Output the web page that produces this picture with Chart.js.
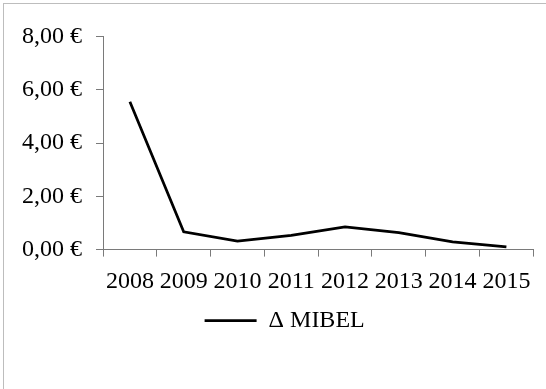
<!DOCTYPE html>
<html>
<head>
<meta charset="utf-8">
<script src="https://cdn.jsdelivr.net/npm/chart.js@4/dist/chart.umd.min.js"></script>
<style>
  html, body { margin: 0; padding: 0; background: #fff; overflow: hidden; }
  #frame {
    position: absolute; left: 3px; top: 3px; width: 560px; height: 400px;
    border-left: 1px solid #bdbdbd; border-top: 1px solid #bdbdbd;
  }
  #wrap { position: absolute; left: 0; top: 0; width: 546px; height: 389px; }
</style>
</head>
<body>
<div id="frame"></div>
<div id="wrap"><canvas id="c" width="546" height="389"></canvas></div>
<script>
// Yearly price differential
const years = ['2008', '2009', '2010', '2011', '2012', '2013', '2014', '2015'];
const mibelDelta = [5.55, 0.67, 0.32, 0.53, 0.85, 0.64, 0.29, 0.1];
const seriesName = '\u0394 MIBEL';
const yTicks = [0, 2, 4, 6, 8];

const font = { family: '"Liberation Serif", "Times New Roman", serif', size: 24 };
const axisColor = '#7a7a7a';

// Centre the legend under the plot rather than under the whole canvas
const legendOffset = {
  id: 'legendOffset',
  afterLayout(chart) {
    const lg = chart.legend;
    if (lg) { lg.left += 18; lg.right += 18; }
  }
};

new Chart(document.getElementById('c'), {
  type: 'line',
  data: {
    labels: years,
    datasets: [{
      label: seriesName,
      data: mibelDelta,
      borderColor: '#000',
      backgroundColor: '#000',
      borderWidth: 2.75,
      pointRadius: 0,
      tension: 0
    }]
  },
  plugins: [legendOffset],
  options: {
    responsive: false,
    animation: false,
    layout: { padding: { left: 0, right: 12.7, top: 36.5, bottom: 46.3 } },
    plugins: {
      tooltip: { enabled: false },
      legend: {
        position: 'bottom',
        labels: {
          color: '#000',
          font: font,
          usePointStyle: true,
          pointStyle: 'line',
          pointStyleWidth: 52,
          padding: 12.5
        }
      }
    },
    scales: {
      x: {
        offset: true,
        afterFit: (axis) => { axis.height = 46.6; },
        grid: { offset: true, drawOnChartArea: false, drawTicks: true, tickLength: 7, color: axisColor },
        border: { display: true, color: axisColor, width: 1 },
        ticks: { color: '#000', font: font, padding: 10.5, maxRotation: 0, autoSkip: false }
      },
      y: {
        min: 0,
        max: 8,
        afterFit: (axis) => { axis.width = 103; },
        afterBuildTicks: (axis) => { axis.ticks = yTicks.map(v => ({ value: v })); },
        grid: { drawOnChartArea: false, drawTicks: true, tickLength: 7, color: axisColor },
        border: { display: true, color: axisColor, width: 1 },
        ticks: {
          color: '#000',
          font: font,
          padding: 14,
          callback: (v) => v.toFixed(2).replace('.', ',') + ' \u20AC'
        }
      }
    }
  }
});
</script>
</body>
</html>
